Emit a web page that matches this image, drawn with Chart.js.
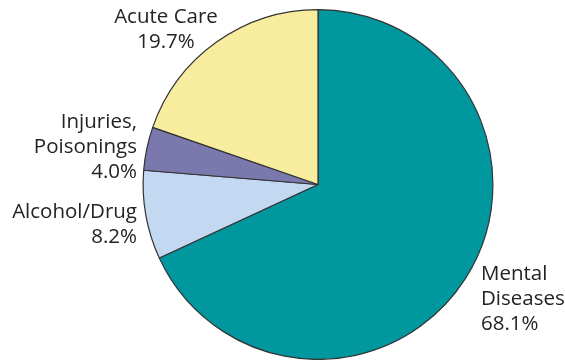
<!DOCTYPE html>
<html>
<head>
<meta charset="utf-8">
<script src="https://cdn.jsdelivr.net/npm/chart.js@4/dist/chart.umd.min.js"></script>
<style>
  html, body { margin: 0; padding: 0; background: #fff; }
  #wrap { width: 565px; height: 360px; position: relative; }
</style>
</head>
<body>
<div id="wrap"><canvas id="pieChart"></canvas></div>
<script>
const categories = ['Mental Diseases', 'Alcohol/Drug', 'Injuries, Poisonings', 'Acute Care'];
const shares = [68.1, 8.2, 4.0, 19.7];
const sliceColors = ['#00979f', '#c3d9f1', '#7a78ad', '#f8ec9e'];

// text lines for each slice label, the value is appended as the last line
const labelLines = [['Mental', 'Diseases'], ['Alcohol/Drug'], ['Injuries,', 'Poisonings'], ['Acute Care']];
// offset of each label block from the pie centre, and text alignment
const labelPlacement = [
    { dx: 163, dy: 90, align: 'left' },
    { dx: -181, dy: 28, align: 'right' },
    { dx: -181, dy: -62, align: 'right' },
    { dx: -152, dy: -167, align: 'center' }
];

const sliceLabels = {
    id: 'sliceLabels',
    afterDatasetsDraw(chart) {
        const ctx = chart.ctx;
        const arc = chart.getDatasetMeta(0).data[0];
        const cx = arc.x, cy = arc.y;
        ctx.save();
        ctx.font = '20.5px "Open Sans", "Noto Sans", sans-serif';
        ctx.fillStyle = '#232323';
        ctx.textBaseline = 'middle';
        shares.forEach((v, i) => {
            const p = labelPlacement[i];
            const lines = labelLines[i].concat([v.toFixed(1) + '%']);
            ctx.textAlign = p.align;
            lines.forEach((t, j) => {
                ctx.fillText(t, cx + p.dx, cy + p.dy + j * 25);
            });
        });
        ctx.restore();
    }
};

new Chart(document.getElementById('pieChart'), {
    type: 'pie',
    data: {
        labels: categories,
        datasets: [{
            data: shares,
            backgroundColor: sliceColors,
            borderColor: '#333',
            borderWidth: 1.2
        }]
    },
    options: {
        responsive: true,
        maintainAspectRatio: false,
        animation: false,
        layout: { padding: { left: 142, right: 71, top: 9, bottom: 0 } },
        plugins: {
            legend: { display: false },
            tooltip: { enabled: false }
        }
    },
    plugins: [sliceLabels]
});
</script>
</body>
</html>
